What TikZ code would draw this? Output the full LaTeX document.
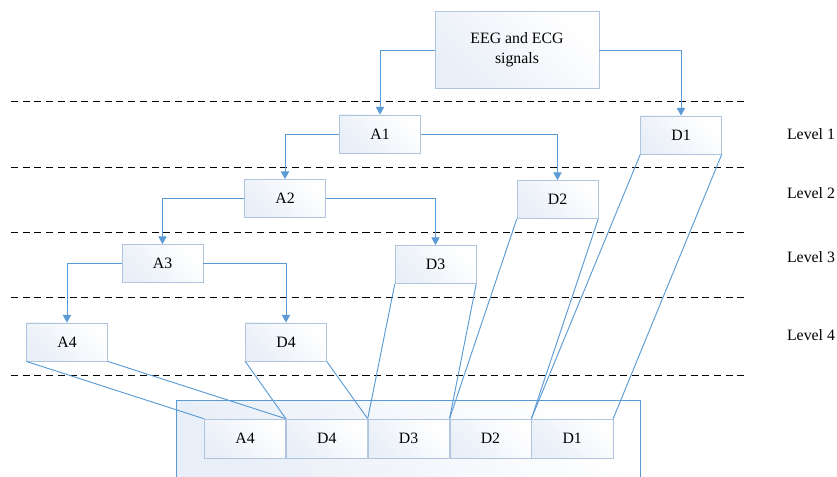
\documentclass[tikz,border=0pt]{standalone}
\usepackage{fontspec}
\setmainfont{Liberation Serif}
\usetikzlibrary{arrows.meta,positioning}

\definecolor{linkblue}{RGB}{91,155,213}
\definecolor{boxline}{RGB}{176,196,222}
\definecolor{boxfill}{RGB}{233,239,248}

\tikzset{
  box/.style={draw=boxline,left color=boxfill,right color=white,shading angle=135,
    minimum width=2.43cm,minimum height=1.15cm,inner sep=1pt,font=\fontsize{13.5}{17}\selectfont},
  cell/.style={box,minimum width=2.44cm,minimum height=1.17cm},
  link/.style={linkblue,thick},
  down/.style={link,-{Triangle[width=7pt,length=6.5pt]}},
  sep/.style={black,semithick,dash pattern=on 6pt off 4pt}
}

\begin{document}
\begin{tikzpicture}[x=0.03cm,y=-0.03cm,>={Stealth},every node/.style={font=\fontsize{13.5}{17}\selectfont}]
\useasboundingbox (0,0) rectangle (837,477);
% level separators and labels
\foreach \y in {101,167,232,297,375} { \draw[sep] (11,\y) -- (745,\y); }
\foreach \y/\n in {134/1,193/2,257/3,335/4} { \node (lv\n) at (811,\y) {Level \n}; }
% decomposition tree
\node[box,minimum width=4.92cm,minimum height=2.31cm,align=center] (sig) at (517,50) {EEG and ECG\\signals};
\node[box] (a1) at (380,134) {A1};
\node[box] (d1) at (681,135) {D1};
\node[box] (a2) at (285,198.5) {A2};
\node[box] (d2) at (557.5,199.5) {D2};
\node[box] (a3) at (162.5,263.5) {A3};
\node[box] (d3) at (435.5,264.5) {D3};
\node[box] (a4) at (67,342) {A4};
\node[box] (d4) at (286,342) {D4};
\draw[down] (sig.west) -| (a1.north); \draw[down] (sig.east) -| (d1.north);
\draw[down] (a1.west) -| (a2.north); \draw[down] (a1.east) -| (d2.north);
\draw[down] (a2.west) -| (a3.north); \draw[down] (a2.east) -| (d3.north);
\draw[down] (a3.west) -| (a4.north); \draw[down] (a3.east) -| (d4.north);
% feature vector
\shade[left color=boxfill,right color=white,shading angle=135] (176,400) rectangle (640,477);
\draw[link] (176,477) -- (176,400) -- (640,400) -- (640,477);
\node[cell] (ca4) at (245,438.5) {A4};
\node[cell,right=0pt of ca4] (cd4) {D4};
\node[cell,right=0pt of cd4] (cd3) {D3};
\node[cell,right=0pt of cd3] (cd2) {D2};
\node[cell,right=0pt of cd2] (cd1) {D1};
\draw[link] (a4.south west) -- (ca4.north west); \draw[link] (a4.south east) -- (cd4.north west);
\draw[link] (d4.south west) -- (cd4.north west); \draw[link] (d4.south east) -- (cd3.north west);
\draw[link] (d3.south west) -- (cd3.north west); \draw[link] (d3.south east) -- (cd2.north west);
\draw[link] (d2.south west) -- (cd2.north west); \draw[link] (d2.south east) -- (cd1.north west);
\draw[link] (d1.south west) -- (cd1.north west); \draw[link] (d1.south east) -- (cd1.north east);
\end{tikzpicture}
\end{document}
